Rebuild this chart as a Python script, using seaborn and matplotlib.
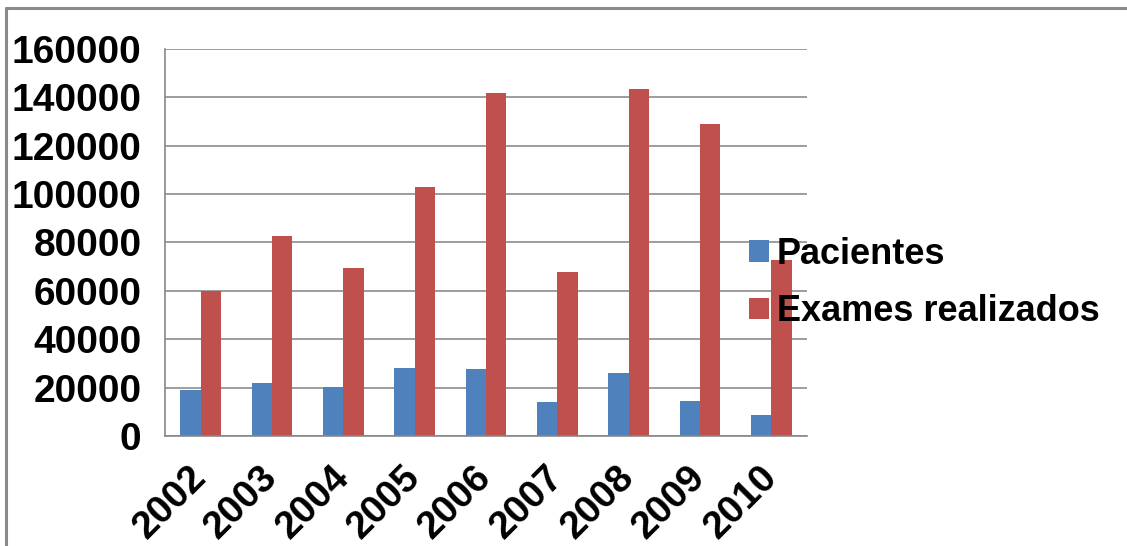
import matplotlib
matplotlib.use("Agg")
import matplotlib.pyplot as plt
import matplotlib.transforms as mtransforms
import seaborn as sns
import pandas as pd

anos = ["2002", "2003", "2004", "2005", "2006", "2007", "2008", "2009", "2010"]
pacientes = [19200, 21800, 20200, 28100, 27600, 14000, 26000, 14500, 8600]
exames = [60000, 82600, 69500, 102800, 142000, 68000, 143500, 128800, 72600]
series_nomes = ["Pacientes", "Exames realizados"]
cores = ["#4F81BD", "#C0504D"]
y_ticks = [0, 20000, 40000, 60000, 80000, 100000, 120000, 140000, 160000]

df = pd.DataFrame({
    "Ano": anos * 2,
    "Valor": pacientes + exames,
    "Serie": [series_nomes[0]] * len(anos) + [series_nomes[1]] * len(anos),
})

sns.set_style("white")
plt.rcParams["font.family"] = ["Liberation Sans", "DejaVu Sans"]
plt.rcParams["text.color"] = "black"
plt.rcParams["xtick.color"] = "black"
plt.rcParams["ytick.color"] = "black"

fig = plt.figure(figsize=(11.27, 5.46), dpi=100)
ax = fig.add_axes([165 / 1127, 1 - 436 / 546, (807 - 165) / 1127, (436 - 49) / 546])

sns.barplot(data=df, x="Ano", y="Valor", hue="Serie", palette=cores,
            width=0.567, gap=0, saturation=1, ax=ax, legend=True,
            linewidth=0, edgecolor="none")

ax.set_ylim(0, 160000)
ax.set_yticks(y_ticks)
ax.set_yticklabels([str(v) for v in y_ticks], fontsize=28, fontweight="bold", color="black")
ax.set_xlim(-0.5, len(anos) - 0.5)
ax.set_xticks([i - 0.5 for i in range(len(anos) + 1)], minor=False)
ax.set_xticklabels([""] * (len(anos) + 1))
ax.set_xticks(range(len(anos)), minor=True)
ax.set_xticklabels(anos, minor=True, rotation=45, ha="right", va="center",
                   rotation_mode="anchor", fontsize=28, fontweight="bold", color="black")
# nudge the year labels slightly to the right
nudge = mtransforms.ScaledTranslation(4 / 100, 0, fig.dpi_scale_trans)
for lbl in ax.get_xticklabels(minor=True):
    lbl.set_transform(lbl.get_transform() + nudge)
ax.tick_params(axis="x", which="minor", length=0, pad=26)
ax.tick_params(axis="x", which="major", length=11, width=1.2, color="#888888", direction="out")
ax.tick_params(axis="y", length=11, width=1.2, color="#888888", direction="out", pad=6)
ax.set_xlabel("")
ax.set_ylabel("")

ax.yaxis.grid(True, color="#8c8c8c", linewidth=1.2)
ax.set_axisbelow(True)
for side in ["top", "right"]:
    ax.spines[side].set_visible(False)
for side in ["left", "bottom"]:
    ax.spines[side].set_color("#888888")
    ax.spines[side].set_linewidth(1.2)

leg = ax.legend(loc="upper left", bbox_to_anchor=(749 / 1127, 1 - 237 / 546),
                bbox_transform=fig.transFigure, frameon=False,
                prop={"size": 26, "weight": "bold"}, handlelength=0.55,
                handleheight=0.55, handletextpad=0.22, labelspacing=0.62,
                borderpad=0, borderaxespad=0)
leg.set_zorder(5)
for txt in leg.get_texts():
    txt.set_color("black")

# outer chart frame (top and left edges)
fig.add_artist(plt.Line2D([6 / 1127, 6 / 1127], [0, 1 - 8 / 546],
                          transform=fig.transFigure, color="#8a8a8a", linewidth=2.2))
fig.add_artist(plt.Line2D([6 / 1127, 1], [1 - 8 / 546, 1 - 8 / 546],
                          transform=fig.transFigure, color="#8a8a8a", linewidth=2.2))

fig.savefig("out.png", dpi=100)
